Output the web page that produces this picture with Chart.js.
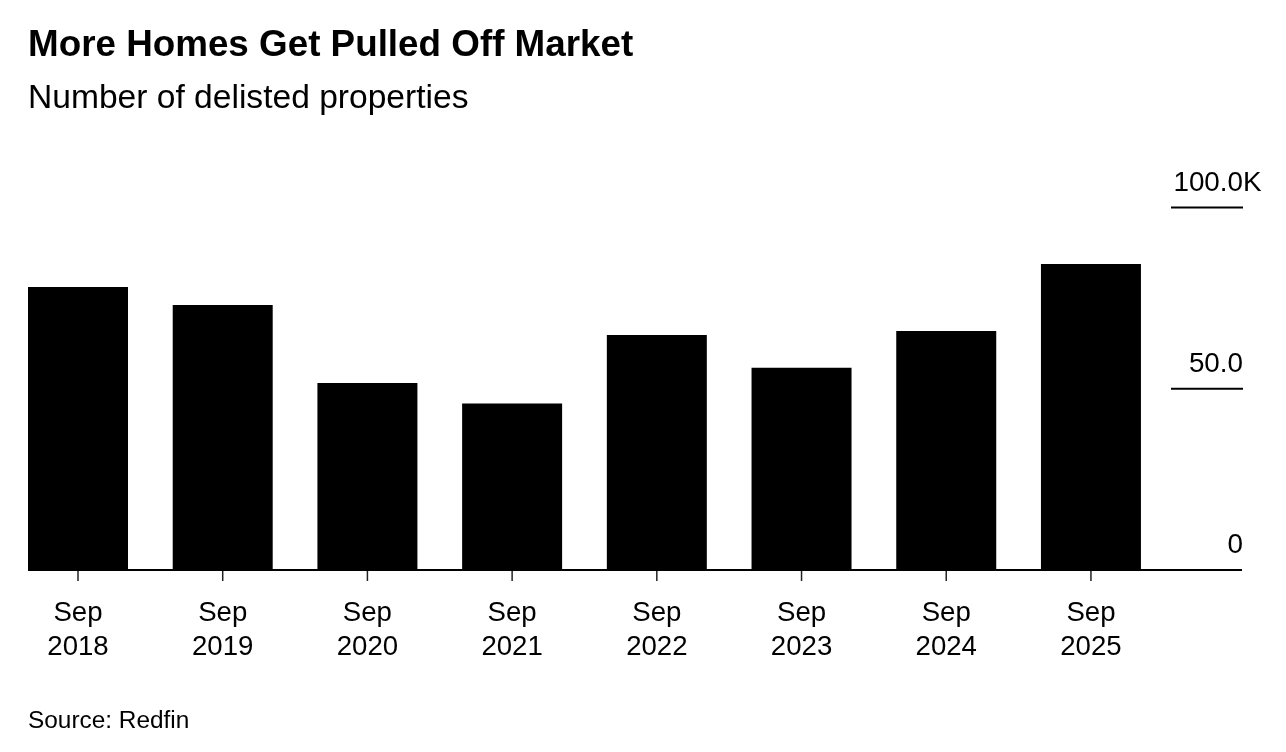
<!DOCTYPE html>
<html>
<head>
<meta charset="utf-8">
<title>More Homes Get Pulled Off Market</title>
<script src="https://cdn.jsdelivr.net/npm/chart.js@4.4.1/dist/chart.umd.min.js"></script>
<style>
  html, body { margin: 0; padding: 0; background: #fff; }
  body {
    width: 1286px; height: 752px; position: relative; overflow: hidden;
    font-family: "Liberation Sans", Arial, Helvetica, sans-serif; color: #000;
  }
  .txt { position: absolute; left: 28px; line-height: 1; white-space: nowrap; }
  #title    { top: 26px;  font-size: 36.8px; font-weight: bold; }
  #subtitle { top: 80px;  font-size: 33.6px; }
  #source   { top: 708px; font-size: 24.4px; }
  #wrap { position: absolute; left: 0; top: 0; width: 1286px; height: 752px; }
</style>
</head>
<body>
<div id="wrap"><canvas id="chart" width="1286" height="752"></canvas></div>
<div class="txt" id="title">More Homes Get Pulled Off Market</div>
<div class="txt" id="subtitle">Number of delisted properties</div>
<div class="txt" id="source">Source: Redfin</div>

<script>
'use strict';

// ─── Data (thousands of delisted homes) ──────────────────────────────────────
const MONTHS     = ['Sep', 'Sep', 'Sep', 'Sep', 'Sep', 'Sep', 'Sep', 'Sep'];
const YEARS      = ['2018', '2019', '2020', '2021', '2022', '2023', '2024', '2025'];
const DELISTED_K = [78.1, 73.1, 51.6, 45.9, 64.8, 55.8, 65.9, 84.4];

const Y_TICKS       = [0, 50, 100];
const Y_TICK_LABELS = ['0', '50.0', '100.0'];
const Y_TOP_SUFFIX  = 'K';

// ─── Layout ──────────────────────────────────────────────────────────────────
const FONT       = '"Liberation Sans", Arial, Helvetica, sans-serif';
const INK        = '#000';
const AXIS_RIGHT = 1243;   // right edge of baseline / value labels
const GRID_LEN   = 72;     // short gridline under each value label

// Bloomberg-style axes: long baseline, small ticks, right-hand labels sitting on stubs
const bbgAxes = {
  id: 'bbgAxes',
  afterDatasetsDraw(chart) {
    const { ctx, scales: { x, y } } = chart;
    const bars = chart.getDatasetMeta(0).data;
    const y0   = y.getPixelForValue(0);
    const left = bars[0].x - bars[0].width / 2;

    ctx.save();

    // value stubs + labels
    ctx.font = `27.8px ${FONT}`;
    ctx.textBaseline = 'alphabetic';
    Y_TICKS.forEach((v, i) => {
      const py = y.getPixelForValue(v);
      if (v !== 0) {
        ctx.strokeStyle = INK; ctx.lineWidth = 2;
        ctx.beginPath();
        ctx.moveTo(AXIS_RIGHT - GRID_LEN, py); ctx.lineTo(AXIS_RIGHT, py);
        ctx.stroke();
      }
      ctx.fillStyle = INK;
      ctx.textAlign = 'right';
      ctx.fillText(Y_TICK_LABELS[i], AXIS_RIGHT, py - 17);
      if (i === Y_TICKS.length - 1) {
        ctx.textAlign = 'left';
        ctx.fillText(Y_TOP_SUFFIX, AXIS_RIGHT, py - 17);
      }
    });

    // baseline
    ctx.strokeStyle = INK; ctx.lineWidth = 2;
    ctx.beginPath();
    ctx.moveTo(left, y0); ctx.lineTo(AXIS_RIGHT - 1, y0);
    ctx.stroke();

    // category ticks + two-line labels
    ctx.font = `27.6px ${FONT}`;
    ctx.textAlign = 'center';
    YEARS.forEach((yr, i) => {
      const px = x.getPixelForValue(i);
      ctx.strokeStyle = '#222'; ctx.lineWidth = 1.5;
      ctx.beginPath();
      ctx.moveTo(px, y0 + 1); ctx.lineTo(px, y0 + 11);
      ctx.stroke();
      ctx.fillStyle = INK;
      ctx.fillText(MONTHS[i], px, y0 + 51);
      ctx.fillText(yr, px, y0 + 85);
    });

    ctx.restore();
  },
};

new Chart(document.getElementById('chart'), {
  type: 'bar',
  data: {
    labels: YEARS.map((yr, i) => `${MONTHS[i]} ${yr}`),
    datasets: [{
      label: 'Delisted properties',
      data: DELISTED_K,
      backgroundColor: INK,
      borderWidth: 0,
      categoryPercentage: 1,
      barPercentage: 0.691,
    }],
  },
  options: {
    responsive: false,
    animation: false,
    layout: { padding: { left: 5.65, right: 122.7, top: 207.5, bottom: 182 } },
    plugins: { legend: { display: false }, tooltip: { enabled: false } },
    scales: {
      x: { display: false, offset: true },
      y: { display: false, min: 0, max: 100 },
    },
  },
  plugins: [bbgAxes],
});
</script>
</body>
</html>
